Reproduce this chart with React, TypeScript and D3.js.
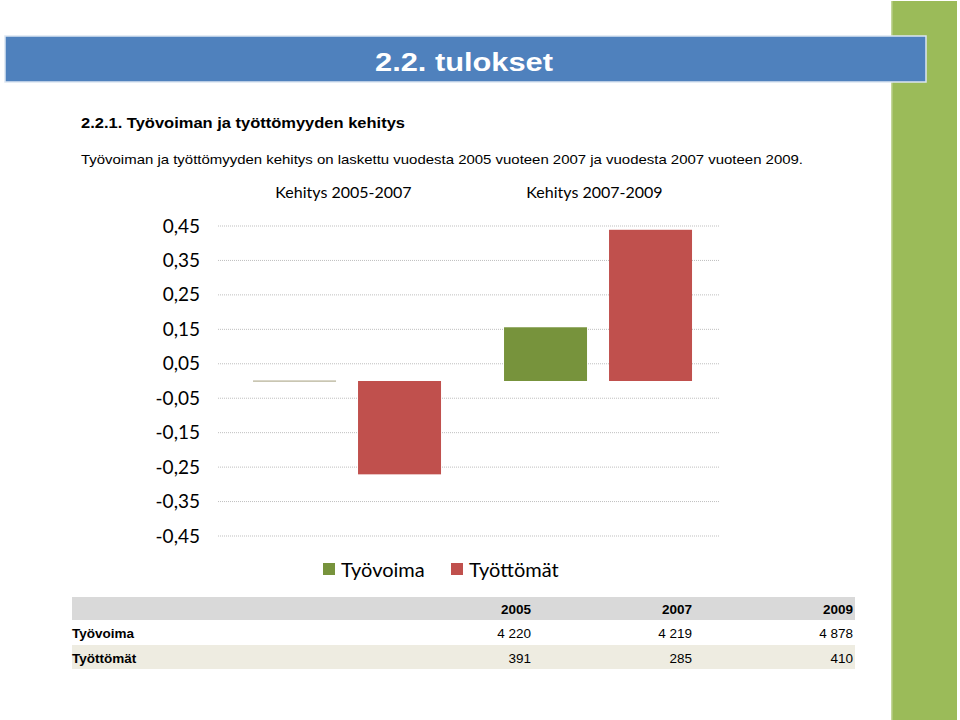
import React from "react";
import * as d3 from "d3";

const groups = ["Kehitys 2005-2007", "Kehitys 2007-2009"];
const series = ["Työvoima", "Työttömät"];
const tyovoimaChange = [-0.0002, 0.156];
const tyottomatChange = [-0.271, 0.439];
const yTicks = [0.45, 0.35, 0.25, 0.15, 0.05, -0.05, -0.15, -0.25, -0.35, -0.45];
const years = ["2005", "2007", "2009"];
const tyovoimaTable = ["4 220", "4 219", "4 878"];
const tyottomatTable = ["391", "285", "410"];

const colors: Record<string, string> = { "Työvoima": "#77933C", "Työttömät": "#C0504D" };
const chartFont = "Lato, 'Open Sans', sans-serif";
const docFont = "'Liberation Sans', Arial, sans-serif";

export default function App() {
  const W = 960, H = 720;
  const y = d3.scaleLinear().domain([-0.45, 0.45]).range([536, 226]);
  const x0 = d3.scaleBand<string>().domain(groups).range([218, 720]).paddingInner(0).paddingOuter(0);
  const x1 = d3.scaleBand<string>().domain(series).range([0, x0.bandwidth()])
    .paddingInner(22 / 105).paddingOuter(0.3).align(0.556);
  const values: Record<string, number[]> = { "Työvoima": tyovoimaChange, "Työttömät": tyottomatChange };

  const bars: { g: string; s: string; v: number }[] = [];
  groups.forEach((g, i) => series.forEach((s) => bars.push({ g, s, v: values[s][i] })));

  const fmt = (v: number) => d3.format(".2f")(v).replace(".", ",").replace("\u2212", "-");

  const colX = d3.scalePoint<string>().domain(years).range([531, 853]);

  return (
    <svg width={W} height={H} style={{ position: "absolute", left: 0, top: 0 }}>
      <rect x={0} y={0} width={W} height={H} fill="#fff" />
      {/* green side stripe */}
      <rect x={891} y={1} width={66} height={719} fill="#9BBB59" />
      <rect x={891} y={1} width={1.5} height={719} fill="#C3D69B" />
      {/* header */}
      <rect x={5} y={36} width={921} height={46} fill="#4F81BD" stroke="#DCE6F2" strokeWidth={1.5} />
      <text x={375} y={71} fill="#fff" fontFamily={docFont} fontWeight="bold" fontSize={25}
        textLength={178} lengthAdjust="spacingAndGlyphs">2.2. tulokset</text>

      <text x={81} y={128} fill="#000" fontFamily={docFont} fontWeight="bold" fontSize={15.5}
        textLength={324} lengthAdjust="spacingAndGlyphs">2.2.1. Työvoiman ja työttömyyden kehitys</text>
      <text x={81} y={164} fill="#000" fontFamily={docFont} fontSize={13.5}
        textLength={722} lengthAdjust="spacingAndGlyphs">Työvoiman ja työttömyyden kehitys on laskettu vuodesta 2005 vuoteen 2007 ja vuodesta 2007 vuoteen 2009.</text>

      {/* group titles */}
      {groups.map((g) => (
        <text key={g} x={(x0(g) as number) + x0.bandwidth() / 2} y={198} textAnchor="middle"
          fontFamily={chartFont} fontSize={16} fill="#000">{g}</text>
      ))}

      {/* gridlines & y labels */}
      {yTicks.map((t) => (
        <g key={t}>
          <line x1={218} x2={720} y1={y(t)} y2={y(t)} stroke="#BFBFBF" strokeWidth={1} strokeDasharray="1,1" />
          <text x={200} y={y(t) + 6.5} textAnchor="end" fontFamily={chartFont} fontSize={19} fill="#000">{fmt(t)}</text>
        </g>
      ))}

      {/* bars */}
      {bars.map((b) => {
        const bx = (x0(b.g) as number) + (x1(b.s) as number);
        const y0 = y(0);
        const yv = y(b.v);
        const h = Math.abs(yv - y0);
        const tiny = h < 1;
        return (
          <rect key={b.g + b.s} x={bx} y={tiny ? y0 - 0.5 : Math.min(y0, yv)} width={x1.bandwidth()}
            height={tiny ? 1.2 : h} fill={tiny ? "#B3AE92" : colors[b.s]} />
        );
      })}

      {/* legend */}
      <rect x={323} y={563} width={12} height={12} fill={colors["Työvoima"]} />
      <text x={341} y={577} fontFamily={chartFont} fontSize={20} fill="#000">Työvoima</text>
      <rect x={451} y={563} width={12} height={12} fill={colors["Työttömät"]} />
      <text x={469} y={577} fontFamily={chartFont} fontSize={20} fill="#000">Työttömät</text>

      {/* table */}
      <rect x={72} y={597} width={783} height={23} fill="#D9D9D9" />
      <rect x={72} y={645} width={783} height={24} fill="#EEECE1" />
      {years.map((yr) => (
        <text key={yr} x={colX(yr)} y={614} textAnchor="end" fontFamily={docFont} fontWeight="bold" fontSize={13.5} fill="#000">{yr}</text>
      ))}
      <text x={72} y={638} fontFamily={docFont} fontWeight="bold" fontSize={13.5} fill="#000">Työvoima</text>
      <text x={72} y={663} fontFamily={docFont} fontWeight="bold" fontSize={13.5} fill="#000">Työttömät</text>
      {years.map((yr, i) => (
        <text key={"a" + yr} x={colX(yr)} y={638} textAnchor="end" fontFamily={docFont} fontSize={13.5} fill="#000">{tyovoimaTable[i]}</text>
      ))}
      {years.map((yr, i) => (
        <text key={"b" + yr} x={colX(yr)} y={663} textAnchor="end" fontFamily={docFont} fontSize={13.5} fill="#000">{tyottomatTable[i]}</text>
      ))}
    </svg>
  );
}
